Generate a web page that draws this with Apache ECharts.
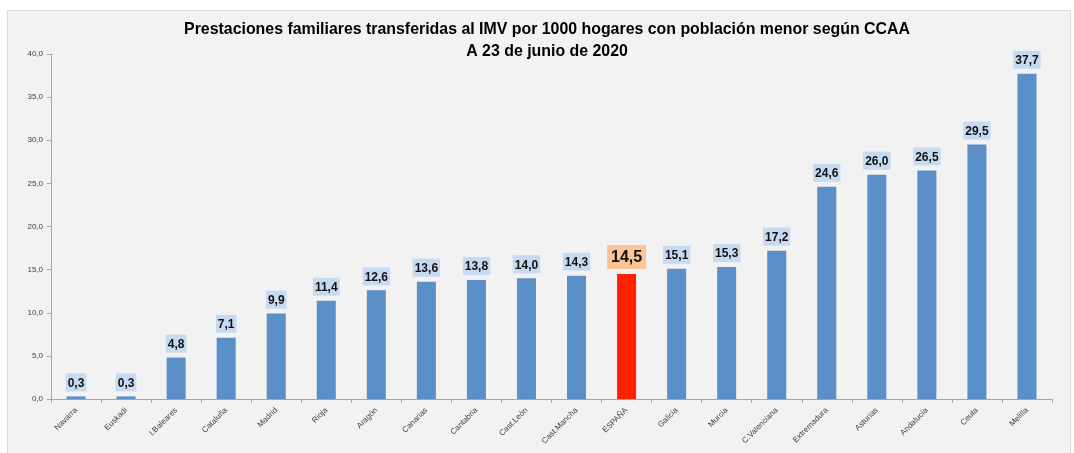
<!DOCTYPE html>
<html><head><meta charset="utf-8">
<script src="https://cdn.jsdelivr.net/npm/echarts@6/dist/echarts.min.js"></script>
<style>html,body{margin:0;padding:0;background:#fff}#c{width:1074px;height:453px}</style>
</head><body><div id="c"></div>
<script>
const categories = ["Navarra","Euskadi","I.Baleares","Cataluña","Madrid","Rioja","Aragón","Canarias","Cantabria","Cast.León","Cast.Mancha","ESPAÑA","Galicia","Murcia","C.Valenciana","Extremadura","Asturias","Andalucía","Ceuta","Melilla"];
const values = [0.3,0.3,4.8,7.1,9.9,11.4,12.6,13.6,13.8,14.0,14.3,14.5,15.1,15.3,17.2,24.6,26.0,26.5,29.5,37.7];
const highlight = "ESPAÑA";
const fmt = v => Number(v).toFixed(1).replace('.', ',');

const chart = echarts.init(document.getElementById('c'));
const data = values.map((v, i) => {
  const isH = categories[i] === highlight;
  return {
    value: v,
    itemStyle: { color: isH ? '#ff2200' : '#5b8fc8' },
    label: isH ? { fontSize: 16, backgroundColor: '#fbc597', padding: [5, 4, 3, 4] } : undefined
  };
});
chart.setOption({
  backgroundColor: '#ffffff',
  animation: false,
  graphic: [{
    type: 'rect', left: 7, top: 10, z: -10, silent: true,
    shape: { width: 1063, height: 445 },
    style: { fill: '#f2f2f2', stroke: '#d9d9d9', lineWidth: 1 }
  }],
  title: {
    text: 'Prestaciones familiares transferidas al IMV por 1000 hogares con población menor según CCAA\nA 23 de junio de 2020',
    left: 542, top: 14, textAlign: 'center',
    textStyle: { fontFamily: 'Liberation Sans', fontWeight: 'bold', fontSize: 15.9, color: '#000', lineHeight: 22 }
  },
  grid: { left: 51, right: 22, top: 54, bottom: 54, containLabel: false },
  xAxis: {
    type: 'category', data: categories,
    axisLine: { lineStyle: { color: '#a6a6a6' } },
    axisTick: { show: true, length: 4, lineStyle: { color: '#a6a6a6' } },
    axisLabel: { rotate: 45, fontSize: 8, color: '#404040', fontFamily: 'Liberation Sans', margin: 10, interval: 0 }
  },
  yAxis: {
    type: 'value', min: 0, max: 40, interval: 5,
    splitLine: { show: false },
    axisLine: { show: true, lineStyle: { color: '#a6a6a6' } },
    axisTick: { show: true, length: 4, lineStyle: { color: '#a6a6a6' } },
    axisLabel: { fontSize: 8, color: '#404040', fontFamily: 'Liberation Sans', margin: 8, formatter: v => fmt(v) }
  },
  series: [{
    type: 'bar', data: data, barWidth: '38%',
    label: {
      show: true, position: 'top', distance: 5,
      formatter: p => fmt(p.value),
      fontFamily: 'Liberation Sans', fontWeight: 'bold', fontSize: 12, color: '#111',
      backgroundColor: '#c6daf1', padding: [4, 2, 2, 2]
    }
  }]
});
</script></body></html>
